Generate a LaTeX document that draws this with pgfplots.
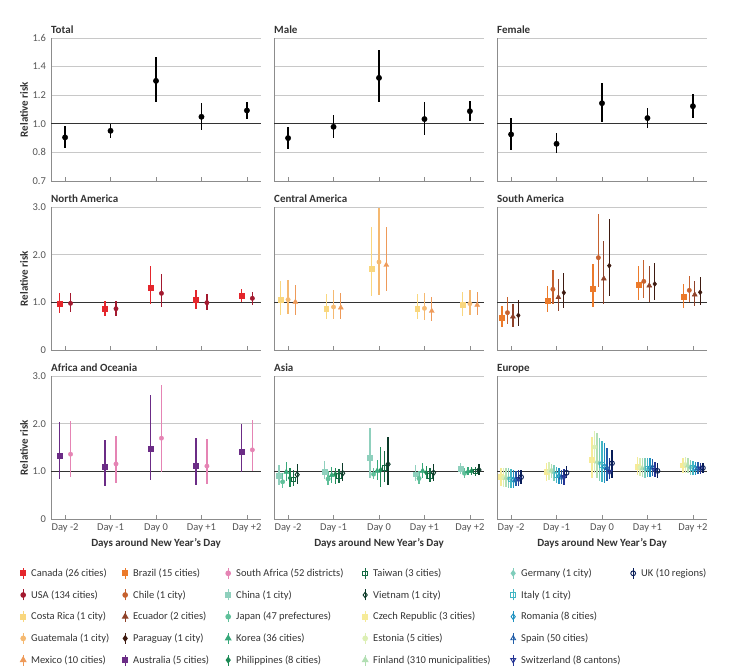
\documentclass[border=0pt]{standalone}
\usepackage{pgfplots}
\pgfplotsset{compat=1.18}
\usepackage{pgfplotstable}
\usepackage{fontspec}
\setmainfont{Carlito}

\definecolor{cAxis}{HTML}{8C8C8C}
\definecolor{cGrid}{HTML}{C8C8C8}
\definecolor{cRef}{HTML}{333333}
\definecolor{cText}{HTML}{333333}
\definecolor{cTick}{HTML}{555555}
% North America
\definecolor{cCAN}{HTML}{E4262C}
\definecolor{cUSA}{HTML}{A3192F}
% Central America
\definecolor{cCR}{HTML}{F9D77E}
\definecolor{cGT}{HTML}{F5B971}
\definecolor{cMX}{HTML}{EE9A59}
% South America
\definecolor{cBR}{HTML}{EC7A2A}
\definecolor{cCL}{HTML}{C6612E}
\definecolor{cEC}{HTML}{8F4229}
\definecolor{cPY}{HTML}{3E1A10}
% Africa & Oceania
\definecolor{cAU}{HTML}{6B2C86}
\definecolor{cZA}{HTML}{E584B4}
% Asia
\definecolor{cCN}{HTML}{8FD0BD}
\definecolor{cJP}{HTML}{5FC09A}
\definecolor{cKR}{HTML}{36A879}
\definecolor{cPH}{HTML}{1C8A55}
\definecolor{cTW}{HTML}{146B43}
\definecolor{cVN}{HTML}{0B3A28}
% Europe
\definecolor{cCZ}{HTML}{F6EB98}
\definecolor{cEE}{HTML}{DCEFB4}
\definecolor{cFI}{HTML}{B2DFB3}
\definecolor{cDE}{HTML}{7FCDBB}
\definecolor{cIT}{HTML}{41B6C4}
\definecolor{cRO}{HTML}{1D91C0}
\definecolor{cES}{HTML}{225EA8}
\definecolor{cCH}{HTML}{253494}
\definecolor{cUK}{HTML}{081D58}

\newcommand{\fs}{\fontsize{10.5}{12}\selectfont}
\newcommand{\fb}{\fontsize{11}{13}\selectfont\bfseries}

\tikzset{
 msq/.style={mark=square*, mark size=2.4pt},
 mci/.style={mark=*, mark size=2.2pt},
 mtr/.style={mark=triangle*, mark size=2.9pt},
 mdi/.style={mark=diamond*, mark size=2.5pt},
 mosq/.style={mark=square, mark size=2.3pt, mark options={line width=0.9pt}},
 modi/.style={mark=diamond, mark size=2.8pt, mark options={line width=0.9pt}},
 motr/.style={mark=triangle, mark size=2.8pt, mark options={line width=0.9pt}},
 moinv/.style={mark=triangle, mark size=2.8pt, mark options={line width=0.9pt, rotate=180}},
 moci/.style={mark=o, mark size=2.4pt, mark options={line width=0.9pt}},
}

% ---------------- data ----------------
\pgfplotstableread{
d y yl yh
-2 0.905 0.828 0.986
-1 0.951 0.900 1.002
0 1.300 1.149 1.467
1 1.049 0.956 1.147
2 1.093 1.035 1.153
}\tTotal
\pgfplotstableread{
d y yl yh
-2 0.900 0.826 0.977
-1 0.979 0.902 1.058
0 1.321 1.153 1.514
1 1.033 0.921 1.151
2 1.088 1.019 1.160
}\tMale
\pgfplotstableread{
d y yl yh
-2 0.926 0.819 1.040
-1 0.860 0.793 0.933
0 1.144 1.014 1.288
1 1.040 0.972 1.112
2 1.123 1.044 1.207
}\tFemale
\pgfplotstableread{
d ca cal cah us usl ush
-2 0.965 0.776 1.19 0.979 0.797 1.19
-1 0.86 0.706 1.035 0.867 0.713 1.028
0 1.30 0.965 1.77 1.189 0.895 1.594
1 1.056 0.867 1.266 0.993 0.832 1.18
2 1.133 1.0 1.287 1.084 0.951 1.224
}\tNA
\pgfplotstableread{
d cr crl crh gt gtl gth mx mxl mxh
-2 1.049 0.727 1.455 1.056 0.748 1.475 1.007 0.734 1.37
-1 0.867 0.65 1.18 0.902 0.65 1.266 0.888 0.65 1.196
0 1.706 1.126 2.573 1.846 1.147 2.97 1.783 1.245 2.573
1 0.867 0.65 1.175 0.874 0.622 1.196 0.818 0.601 1.112
2 0.951 0.72 1.224 0.972 0.727 1.266 0.944 0.727 1.217
}\tCA
\pgfplotstableread{
d br brl brh cl cll clh ec ecl ech py pyl pyh
-2 0.671 0.476 0.93 0.783 0.538 1.112 0.699 0.483 0.972 0.727 0.51 1.042
-1 1.028 0.79 1.336 1.273 0.958 1.685 1.105 0.811 1.483 1.203 0.888 1.622
0 1.28 0.902 1.797 1.937 1.322 2.86 1.497 0.965 2.294 1.769 1.14 2.755
1 1.364 1.042 1.755 1.44 1.091 1.881 1.35 1.007 1.769 1.385 1.042 1.825
2 1.112 0.888 1.385 1.252 1.007 1.552 1.161 0.916 1.455 1.21 0.951 1.531
}\tSA
\pgfplotstableread{
d au aul auh za zal zah
-2 1.325 0.848 2.03 1.36 0.89 2.05
-1 1.093 0.70 1.66 1.156 0.76 1.75
0 1.47 0.827 2.6 1.696 0.986 2.82
1 1.12 0.72 1.69 1.11 0.74 1.67
2 1.41 0.986 2.0 1.45 1.0 2.07
}\tAO
\pgfplotstableread{
d cn cnl cnh jp jpl jph kr krl krh ph phl phh tw twl twh vn vnl vnh
-2 0.91 0.72 1.14 0.78 0.65 0.965 0.986 0.80 1.20 0.86 0.67 1.07 0.83 0.69 1.03 0.93 0.74 1.16
-1 1.00 0.83 1.21 0.84 0.71 1.00 0.92 0.76 1.10 0.94 0.73 1.08 0.90 0.75 1.05 0.96 0.79 1.17
0 1.29 0.87 1.90 0.94 0.83 1.07 1.01 0.82 1.24 1.03 0.67 1.50 1.07 0.77 1.42 1.15 0.71 1.73
1 0.94 0.80 1.14 0.85 0.73 1.00 1.01 0.87 1.17 0.97 0.84 1.12 0.90 0.77 1.07 0.97 0.80 1.16
2 1.05 0.94 1.17 0.96 0.87 1.07 1.00 0.92 1.09 1.01 0.92 1.10 1.00 0.90 1.10 1.03 0.92 1.15
}\tAS
\pgfplotstableread{
d cz czl czh ee eel eeh fi fil fih de del deh it itl ith ro rol roh es esl esh ch chl chh uk ukl ukh
-2 0.89 0.69 1.08 0.87 0.68 1.07 0.86 0.67 1.06 0.85 0.66 1.06 0.83 0.65 1.05 0.82 0.66 1.03 0.83 0.69 1.00 0.84 0.70 1.02 0.88 0.73 1.03
-1 0.99 0.80 1.17 1.00 0.82 1.20 1.02 0.86 1.15 0.97 0.79 1.14 0.92 0.76 1.10 0.90 0.74 1.07 0.87 0.73 1.03 0.88 0.72 1.05 0.97 0.85 1.12
0 1.24 0.86 1.73 1.51 0.96 1.84 1.20 0.86 1.80 1.17 0.79 1.70 1.13 0.78 1.64 1.10 0.76 1.59 1.07 0.79 1.49 0.99 0.83 1.28 1.17 0.87 1.45
1 1.10 0.92 1.31 1.08 0.90 1.29 1.06 0.88 1.27 1.05 0.87 1.27 1.06 0.88 1.27 1.07 0.89 1.28 1.08 0.90 1.26 1.03 0.88 1.20 1.01 0.87 1.17
2 1.13 0.96 1.28 1.14 0.97 1.30 1.12 0.96 1.27 1.08 0.93 1.24 1.07 0.93 1.22 1.06 0.93 1.20 1.07 0.94 1.20 1.06 0.94 1.18 1.07 0.97 1.17
}\tEU

% #1 table, #2 column prefix, #3 x offset, #4 colour, #5 mark style
\newcommand{\ci}[5]{\addplot[only marks, color=#4, #5,
  error bars/y dir=both, error bars/y explicit, error bars/error mark=none,
  error bars/error bar style={line width=1.3pt, color=#4, solid}]
  table[x expr=\thisrow{d}+#3, y=#2,
        y error plus expr=\thisrow{#2h}-\thisrow{#2},
        y error minus expr=\thisrow{#2}-\thisrow{#2l}] {#1};}

\pgfplotsset{
 panel/.style={
  scale only axis, width=210pt, height=143pt, anchor=south west,
  xmin=-2.31, xmax=2.31,
  axis lines*=left,
  axis line style={draw=cAxis, line width=0.8pt},
  xtick={-2,-1,0,1,2}, xticklabels={},
  xtick align=inside,
  xtick style={draw=cAxis, line width=0.8pt},
  major tick length=3.5pt,
  ytick style={draw=none},
  ymajorgrids,
  major grid style={draw=cGrid, line width=0.8pt},
  tick label style={font=\fs, text=cTick},
  yticklabel style={xshift=-1.5pt},
  xticklabel style={yshift=-1.5pt},
  /pgf/number format/assume math mode=true,
  title style={at={(axis description cs:0,1)}, anchor=base west, inner xsep=0pt, yshift=-2pt, font=\fb, text=cText},
  extra y ticks={1},
  extra y tick style={major grid style={draw=cRef, line width=1pt}, ytick style={draw=none}},
  yticklabels={}, extra y tick labels={},
  clip=false,
 },
 toprow/.style={ymin=0.6, ymax=1.6, ytick={0.6,0.8,1.2,1.4,1.6}},
 lowrow/.style={ymin=0, ymax=3, ytick={0,2,3}},
 leftcol/.style={ylabel={Relative risk},
  ylabel style={at={(axis description cs:-0.1286,0.5)}, rotate=0, anchor=center, font=\fb, text=cText},
  extra y tick labels={1.0}},
 botrow/.style={xticklabels={Day -2,Day -1,Day 0,Day +1,Day +2},
  xlabel={Days around New Year’s Day},
  xlabel style={at={(axis description cs:0.5,0)}, anchor=center, yshift=-24pt, font=\fb, text=cText}},
}

\begin{document}
\begin{tikzpicture}
\useasboundingbox (0pt,0pt) rectangle (747pt,669pt);

% ---------------- top row ----------------
\begin{axis}[panel, toprow, leftcol, at={(51pt,488pt)}, title={Total},
  yticklabels={0.7,0.8,1.2,1.4,1.6}]
\ci{\tTotal}{y}{0}{black}{mark=*, mark size=2.7pt}
\end{axis}
\begin{axis}[panel, toprow, at={(274pt,488pt)}, title={Male}]
\ci{\tMale}{y}{0}{black}{mark=*, mark size=2.7pt}
\end{axis}
\begin{axis}[panel, toprow, at={(497pt,488pt)}, title={Female}]
\ci{\tFemale}{y}{0}{black}{mark=*, mark size=2.7pt}
\end{axis}

% ---------------- middle row ----------------
\begin{axis}[panel, lowrow, leftcol, at={(51pt,319pt)}, title={North America},
  yticklabels={0,2.0,3.0}]
\ci{\tNA}{ca}{-0.12}{cCAN}{msq}
\ci{\tNA}{us}{0.12}{cUSA}{mci}
\end{axis}
\begin{axis}[panel, lowrow, at={(274pt,319pt)}, title={Central America}]
\ci{\tCA}{cr}{-0.16}{cCR}{msq}
\ci{\tCA}{gt}{0}{cGT}{mci}
\ci{\tCA}{mx}{0.16}{cMX}{mtr}
\end{axis}
\begin{axis}[panel, lowrow, at={(497pt,319pt)}, title={South America}]
\ci{\tSA}{br}{-0.2}{cBR}{msq}
\ci{\tSA}{cl}{-0.08}{cCL}{mci}
\ci{\tSA}{ec}{0.04}{cEC}{mtr}
\ci{\tSA}{py}{0.16}{cPY}{mdi}
\end{axis}

% ---------------- bottom row ----------------
\begin{axis}[panel, lowrow, leftcol, botrow, at={(51pt,150pt)}, title={Africa and Oceania},
  yticklabels={0,2.0,3.0}]
\ci{\tAO}{au}{-0.12}{cAU}{msq}
\ci{\tAO}{za}{0.12}{cZA}{mci}
\end{axis}
\begin{axis}[panel, lowrow, botrow, at={(274pt,150pt)}, title={Asia}]
\ci{\tAS}{cn}{-0.2}{cCN}{msq}
\ci{\tAS}{jp}{-0.12}{cJP}{mci}
\ci{\tAS}{kr}{-0.04}{cKR}{mtr}
\ci{\tAS}{ph}{0.04}{cPH}{mdi}
\ci{\tAS}{tw}{0.12}{cTW}{mosq}
\ci{\tAS}{vn}{0.2}{cVN}{modi}
\end{axis}
\begin{axis}[panel, lowrow, botrow, at={(497pt,150pt)}, title={Europe}]
\ci{\tEU}{cz}{-0.22}{cCZ}{msq}
\ci{\tEU}{ee}{-0.165}{cEE}{mci}
\ci{\tEU}{fi}{-0.11}{cFI}{mtr}
\ci{\tEU}{de}{-0.055}{cDE}{mdi}
\ci{\tEU}{it}{0}{cIT}{mosq}
\ci{\tEU}{ro}{0.055}{cRO}{modi}
\ci{\tEU}{es}{0.11}{cES}{motr}
\ci{\tEU}{ch}{0.165}{cCH}{moinv}
\ci{\tEU}{uk}{0.22}{cUK}{moci}
\end{axis}

% ---------------- legend ----------------
\begin{axis}[at={(0pt,0pt)}, anchor=south west, scale only axis, width=747pt, height=669pt,
  hide axis, xmin=0, xmax=1, ymin=0, ymax=1,
  legend columns=6, legend cell align=left,
  legend style={at={(axis description cs:0.02544,0.15247)}, anchor=north west,
    draw=none, fill=none, inner sep=0pt, column sep=0pt, row sep=9.5pt,
    font=\fs, text=cText, nodes={inner sep=0pt}},
  legend image code/.code={\path[draw=none, fill=none] (-4pt,-6pt) rectangle (8pt,6pt);
    \draw[line width=1.2pt, mark repeat=2, mark phase=2, #1] plot coordinates {(0pt,-5.5pt) (0pt,0pt) (0pt,5.5pt)};},
]
% row 1
\addlegendimage{color=cCAN, msq}\addlegendentry{\makebox[90pt][l]{Canada (26 cities)}}
\addlegendimage{color=cBR, msq}\addlegendentry{\makebox[91pt][l]{Brazil (15 cities)}}
\addlegendimage{color=cZA, mci}\addlegendentry{\makebox[125pt][l]{South Africa (52 districts)}}
\addlegendimage{color=cTW, mosq}\addlegendentry{\makebox[136pt][l]{Taiwan (3 cities)}}
\addlegendimage{color=cDE, mdi}\addlegendentry{\makebox[108pt][l]{Germany (1 city)}}
\addlegendimage{color=cUK, moci}\addlegendentry{\makebox[70pt][l]{UK (10 regions)}}
% row 2
\addlegendimage{color=cUSA, mci}\addlegendentry{\makebox[90pt][l]{USA (134 cities)}}
\addlegendimage{color=cCL, mci}\addlegendentry{\makebox[91pt][l]{Chile (1 city)}}
\addlegendimage{color=cCN, msq}\addlegendentry{\makebox[125pt][l]{China (1 city)}}
\addlegendimage{color=cVN, modi}\addlegendentry{\makebox[136pt][l]{Vietnam (1 city)}}
\addlegendimage{color=cIT, mosq}\addlegendentry{\makebox[108pt][l]{Italy (1 city)}}
\addlegendimage{empty legend}\addlegendentry{}
% row 3
\addlegendimage{color=cCR, msq}\addlegendentry{\makebox[90pt][l]{Costa Rica (1 city)}}
\addlegendimage{color=cEC, mtr}\addlegendentry{\makebox[91pt][l]{Ecuador (2 cities)}}
\addlegendimage{color=cJP, mci}\addlegendentry{\makebox[125pt][l]{Japan (47 prefectures)}}
\addlegendimage{color=cCZ, msq}\addlegendentry{\makebox[136pt][l]{Czech Republic (3 cities)}}
\addlegendimage{color=cRO, modi}\addlegendentry{\makebox[108pt][l]{Romania (8 cities)}}
\addlegendimage{empty legend}\addlegendentry{}
% row 4
\addlegendimage{color=cGT, mci}\addlegendentry{\makebox[90pt][l]{Guatemala (1 city)}}
\addlegendimage{color=cPY, mdi}\addlegendentry{\makebox[91pt][l]{Paraguay (1 city)}}
\addlegendimage{color=cKR, mtr}\addlegendentry{\makebox[125pt][l]{Korea (36 cities)}}
\addlegendimage{color=cEE, mci}\addlegendentry{\makebox[136pt][l]{Estonia (5 cities)}}
\addlegendimage{color=cES, motr}\addlegendentry{\makebox[108pt][l]{Spain (50 cities)}}
\addlegendimage{empty legend}\addlegendentry{}
% row 5
\addlegendimage{color=cMX, mtr}\addlegendentry{\makebox[90pt][l]{Mexico (10 cities)}}
\addlegendimage{color=cAU, msq}\addlegendentry{\makebox[91pt][l]{Australia (5 cities)}}
\addlegendimage{color=cPH, mdi}\addlegendentry{\makebox[125pt][l]{Philippines (8 cities)}}
\addlegendimage{color=cFI, mtr}\addlegendentry{\makebox[136pt][l]{Finland (310 municipalities)}}
\addlegendimage{color=cCH, moinv}\addlegendentry{\makebox[108pt][l]{Switzerland (8 cantons)}}
\addlegendimage{empty legend}\addlegendentry{}
\end{axis}
\end{tikzpicture}
\end{document}
